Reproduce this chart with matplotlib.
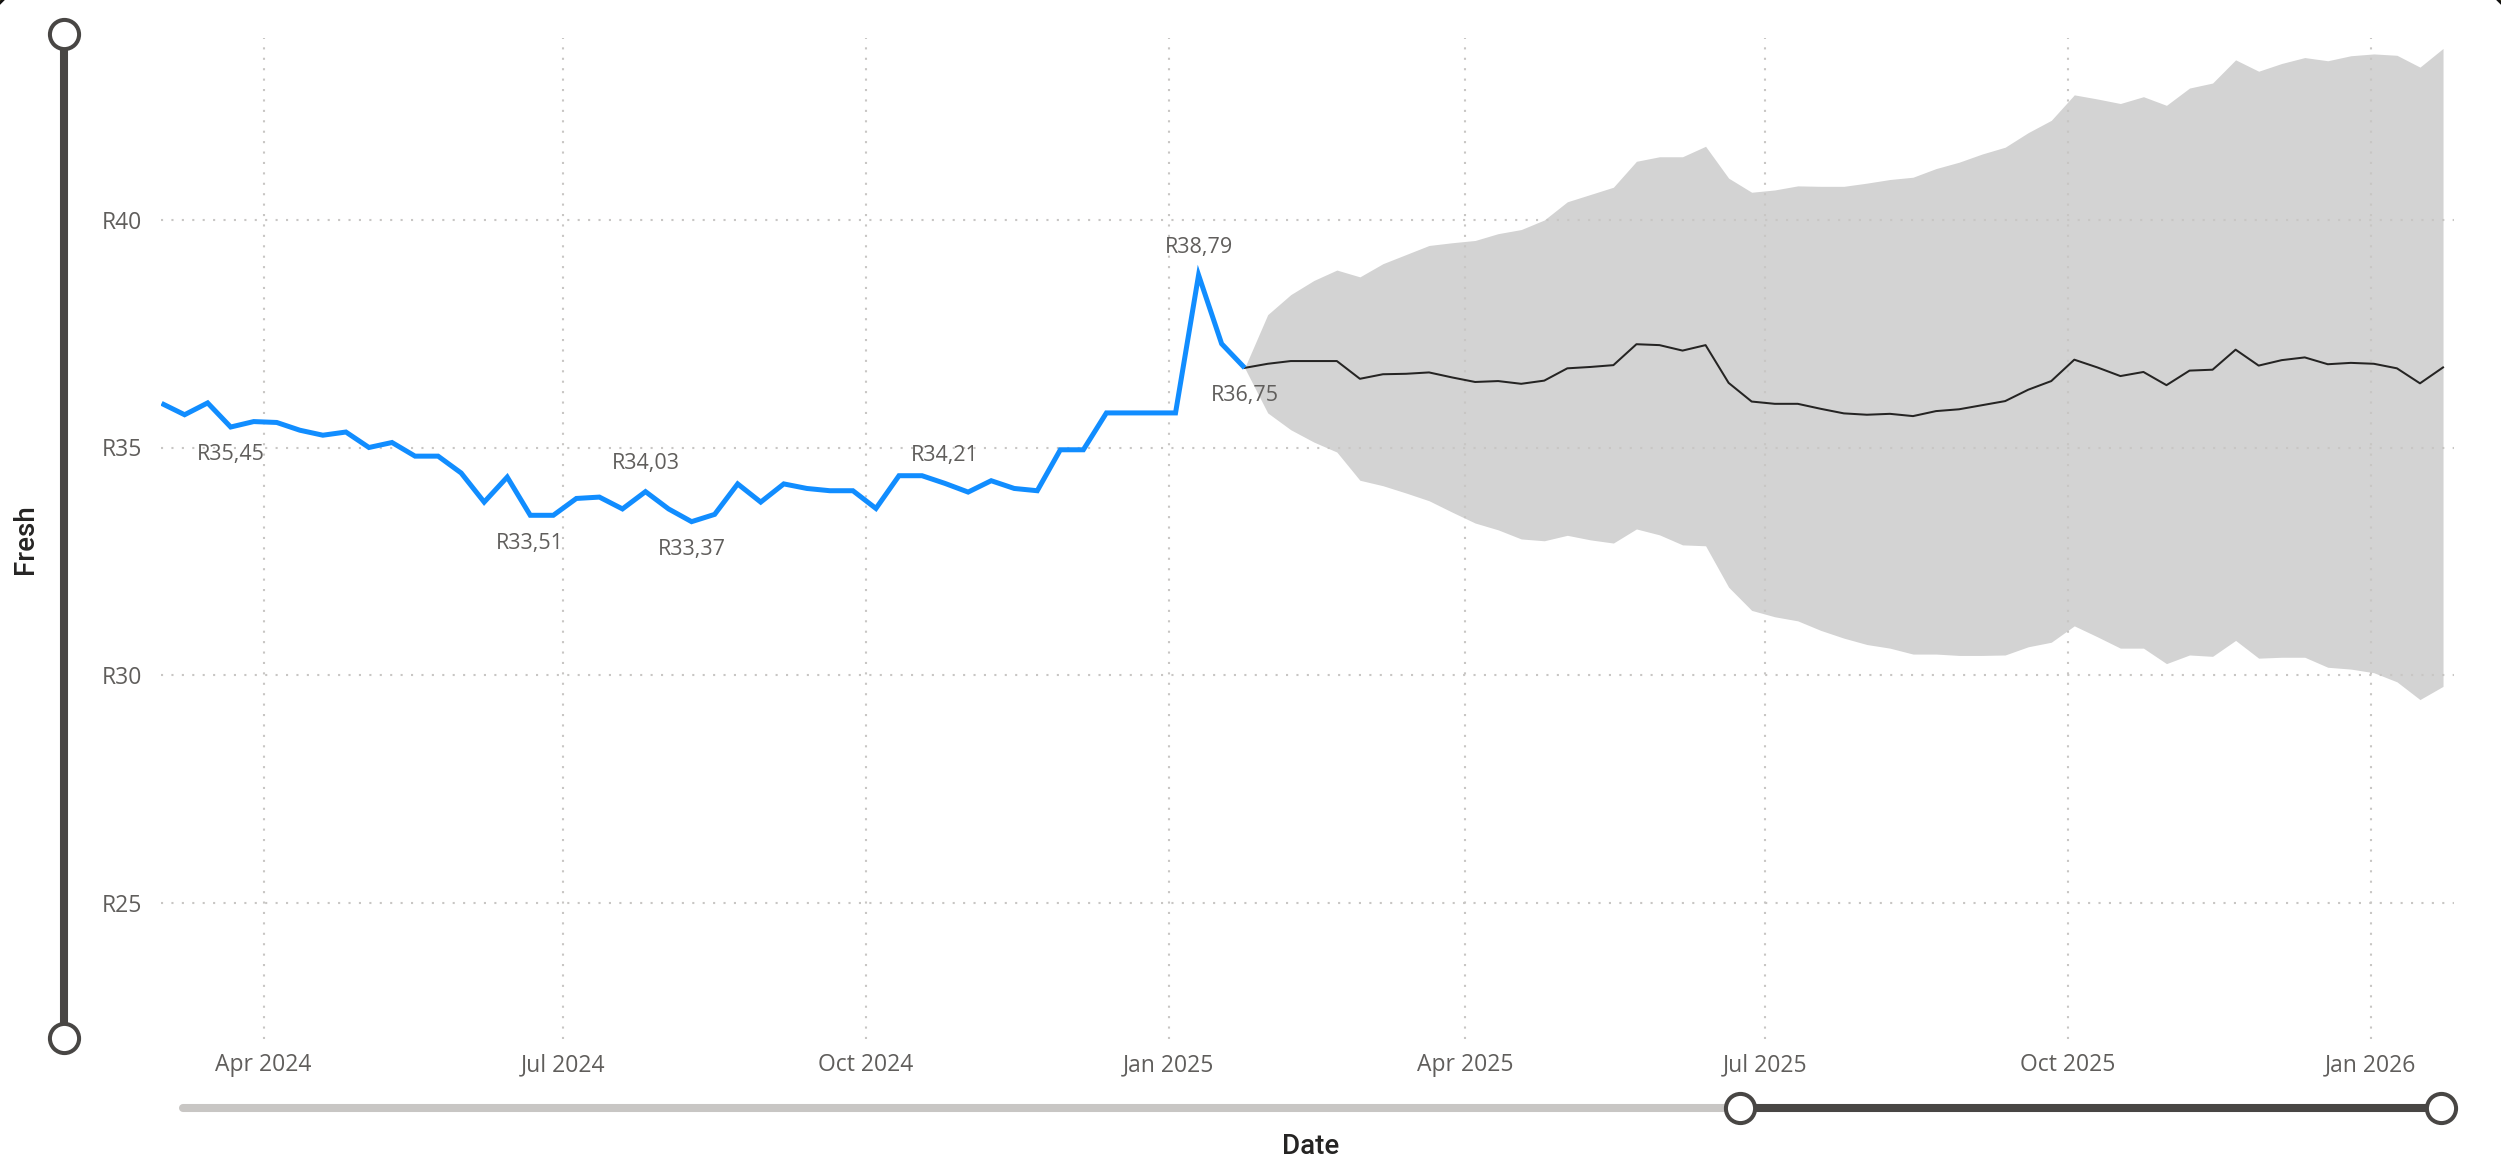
import matplotlib
matplotlib.use("Agg")
import matplotlib.pyplot as plt
from matplotlib.lines import Line2D
from matplotlib.patches import FancyBboxPatch
import pandas as pd

# ---------------- data ----------------
actual_start = "2024-03-01"
actual_values = [35.97, 35.72, 35.98, 35.45, 35.57, 35.55, 35.38, 35.27, 35.34, 35.00,
                 35.11, 34.81, 34.81, 34.44, 33.80, 34.35, 33.51, 33.51, 33.88, 33.91,
                 33.65, 34.03, 33.65, 33.37, 33.53, 34.20, 33.80, 34.20, 34.10, 34.05,
                 34.05, 33.66, 34.38, 34.38, 34.21, 34.02, 34.27, 34.10, 34.05, 34.95,
                 34.95, 35.76, 35.76, 35.76, 35.76, 38.79, 37.28, 36.75]

forecast_mean = [36.75, 36.84, 36.90, 36.90, 36.90, 36.51, 36.61, 36.62, 36.65, 36.54,
                 36.44, 36.46, 36.40, 36.47, 36.74, 36.77, 36.81, 37.27, 37.25, 37.13,
                 37.25, 36.42, 36.01, 35.96, 35.96, 35.85, 35.75, 35.72, 35.74, 35.69,
                 35.80, 35.84, 35.93, 36.02, 36.27, 36.46, 36.93, 36.76, 36.57, 36.66,
                 36.37, 36.69, 36.71, 37.15, 36.80, 36.92, 36.98, 36.83, 36.86, 36.84,
                 36.74, 36.41, 36.76]
forecast_upper = [36.75, 37.92, 38.36, 38.67, 38.90, 38.75, 39.04, 39.24, 39.44, 39.50,
                  39.55, 39.70, 39.79, 40.00, 40.40, 40.56, 40.72, 41.29, 41.39, 41.39,
                  41.62, 40.92, 40.61, 40.66, 40.75, 40.74, 40.74, 40.81, 40.89, 40.94,
                  41.13, 41.27, 41.45, 41.60, 41.92, 42.19, 42.75, 42.66, 42.56, 42.71,
                  42.52, 42.90, 43.01, 43.52, 43.27, 43.44, 43.57, 43.50, 43.61, 43.65,
                  43.62, 43.36, 43.77]
forecast_lower = [36.75, 35.76, 35.39, 35.12, 34.90, 34.28, 34.16, 34.00, 33.83, 33.58,
                  33.34, 33.19, 32.99, 32.95, 33.07, 32.97, 32.90, 33.21, 33.08, 32.86,
                  32.84, 31.93, 31.42, 31.28, 31.19, 30.98, 30.81, 30.67, 30.59, 30.46,
                  30.46, 30.43, 30.43, 30.44, 30.62, 30.72, 31.08, 30.84, 30.59, 30.59,
                  30.25, 30.44, 30.41, 30.76, 30.37, 30.39, 30.39, 30.17, 30.13, 30.05,
                  29.85, 29.46, 29.75]

# indices of the labelled points and the label placement (above / below)
label_idx = [3, 16, 21, 23, 34, 45, 47]
label_pos = ["below", "below", "above", "below", "above", "above", "below"]

y_ticks = [25, 30, 35, 40]
y_tick_labels = ["R25", "R30", "R35", "R40"]
x_ticks = ["2024-04-01", "2024-07-01", "2024-10-01", "2025-01-01",
           "2025-04-01", "2025-07-01", "2025-10-01", "2026-01-01"]
x_tick_labels = ["Apr 2024", "Jul 2024", "Oct 2024", "Jan 2025",
                 "Apr 2025", "Jul 2025", "Oct 2025", "Jan 2026"]

actual_dates = pd.date_range(actual_start, periods=len(actual_values), freq="7D")
forecast_dates = pd.date_range(actual_dates[-1], periods=len(forecast_mean), freq="7D")

# ---------------- figure ----------------
W, H = 2501, 1163
fig = plt.figure(figsize=(W / 100, H / 100), dpi=100)
fig.patch.set_facecolor("#7d6b1e")
# rounded card whose corners only peek in at the top
card = FancyBboxPatch((-0.10, -1.0), W / 100 + 0.20, H / 100 + 1.10,
                      boxstyle="round,pad=0,rounding_size=0.45",
                      transform=fig.dpi_scale_trans, facecolor="white",
                      edgecolor="#111111", linewidth=2, zorder=0)
fig.add_artist(card)

ax_l, ax_r, ax_t, ax_b = 161, 2454, 38, 1039
ax = fig.add_axes([ax_l / W, 1 - ax_b / H, (ax_r - ax_l) / W, (ax_b - ax_t) / H])
ax.set_facecolor("none")

tick_font = "Open Sans"
grey_txt = "#605E5C"

ax.fill_between(forecast_dates, forecast_lower, forecast_upper,
                color="#D3D3D3", linewidth=0, zorder=1)
ax.plot(forecast_dates, forecast_mean, color="#252423", linewidth=1.45, zorder=3)
ax.plot(actual_dates, actual_values, color="#118DFF", linewidth=3.6, zorder=4,
        solid_joinstyle="miter", solid_capstyle="butt")

for i, pos in zip(label_idx, label_pos):
    v = actual_values[i]
    txt = "R" + f"{v:.2f}".replace(".", ",")
    dy = 20 if pos == "above" else -20
    ax.annotate(txt, (actual_dates[i], v), xytext=(0, dy), textcoords="offset points",
                ha="center", va="center", fontsize=15.5, color=grey_txt,
                family=tick_font, zorder=5)

ax.set_ylim(22, 44)
ax.set_xlim(pd.Timestamp("2024-02-29 20:00"), pd.Timestamp("2026-01-26 08:00"))
ax.set_yticks(y_ticks)
ax.set_yticklabels(y_tick_labels)
ax.set_xticks(pd.to_datetime(x_ticks))
ax.set_xticklabels(x_tick_labels)
for lab in ax.get_xticklabels() + ax.get_yticklabels():
    lab.set_fontfamily(tick_font)
    lab.set_fontsize(16.5)
    lab.set_color(grey_txt)
ax.tick_params(axis="both", length=0)
ax.tick_params(axis="x", pad=10)
ax.tick_params(axis="y", pad=13.5)
for s in ax.spines.values():
    s.set_visible(False)
ax.set_axisbelow("line")
ax.grid(True, color="#C8C6C4", linewidth=1.5, linestyle=(0, (1, 4)))

# ---------------- sliders ----------------
def fx(px):
    return px / W

def fy(py):
    return 1 - py / H

dark = "#484644"
# vertical (y) slider
fig.add_artist(Line2D([fx(64), fx(64)], [fy(34), fy(1038)], color=dark,
                      linewidth=5.8, solid_capstyle="butt", transform=fig.transFigure))
for py in (34, 1038):
    fig.add_artist(Line2D([fx(64)], [fy(py)], marker="o", markersize=21,
                          markerfacecolor="white", markeredgecolor=dark,
                          markeredgewidth=2.9, transform=fig.transFigure))
# horizontal (x) slider
fig.add_artist(Line2D([fx(183), fx(1740)], [fy(1107.5), fy(1107.5)], color="#C8C6C4",
                      linewidth=5.8, solid_capstyle="round", transform=fig.transFigure))
fig.add_artist(Line2D([fx(1740), fx(2441)], [fy(1107.5), fy(1107.5)], color=dark,
                      linewidth=5.8, solid_capstyle="butt", transform=fig.transFigure))
for px in (1740, 2441):
    fig.add_artist(Line2D([fx(px)], [fy(1107.5)], marker="o", markersize=21,
                          markerfacecolor="white", markeredgecolor=dark,
                          markeredgewidth=2.9, transform=fig.transFigure))

# axis titles
fig.text(fx(25.5), fy(539), "Fresh", rotation=90, ha="center", va="center",
         fontsize=20, family="Roboto", fontweight="medium", color="#252423")
fig.text(fx(1311), fy(1147), "Date", ha="center", va="center",
         fontsize=20, family="Roboto", fontweight="medium", color="#252423")

fig.savefig("out.png", dpi=100, facecolor=fig.get_facecolor())
